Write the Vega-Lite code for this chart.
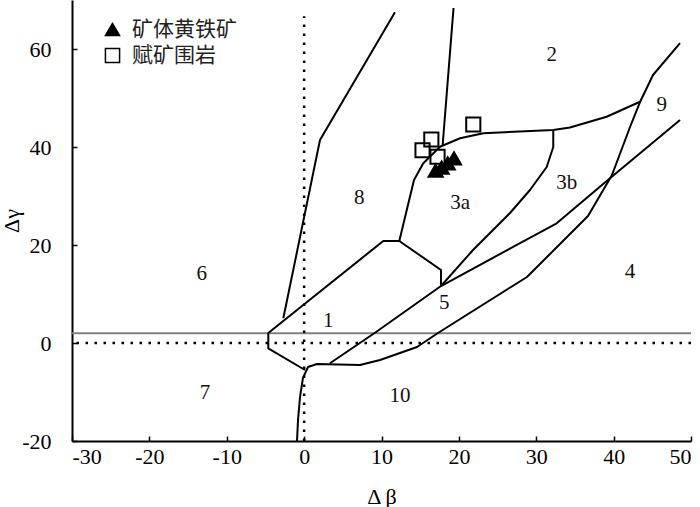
{
  "$schema": "https://vega.github.io/schema/vega-lite/v6.json",
  "width": 619,
  "height": 441,
  "autosize": "none",
  "padding": {"left": 72, "top": 0, "right": 9, "bottom": 66},
  "background": "white",
  "config": {
    "view": {"stroke": null},
    "axis": {
      "grid": false,
      "domainColor": "black",
      "domainWidth": 2,
      "tickColor": "black",
      "tickWidth": 1.5,
      "tickSize": -5,
      "labelFont": "Liberation Serif",
      "labelFontSize": 22,
      "labelColor": "black",
      "labelExpr": "'' + datum.value",
      "titleFont": "Liberation Serif",
      "titleFontSize": 22,
      "titleFontWeight": "normal",
      "titleColor": "black"
    },
    "legend": {
      "labelFont": "Noto Sans CJK SC",
      "labelFontSize": 21,
      "labelColor": "#222"
    }
  },
  "datasets": {
    "lines": [
      {"id": "A", "o": 1, "x": -2.69, "y": 5.04},
      {"id": "A", "o": 2, "x": 2.05, "y": 41.43},
      {"id": "A", "o": 3, "x": 11.74, "y": 67.5},
      {"id": "B", "o": 1, "x": 0.11, "y": -5.51},
      {"id": "B", "o": 2, "x": -4.63, "y": -1.08},
      {"id": "B", "o": 3, "x": -4.63, "y": 2.04},
      {"id": "B", "o": 4, "x": 10.23, "y": 20.82},
      {"id": "B", "o": 5, "x": 12.3, "y": 20.82},
      {"id": "B", "o": 6, "x": 17.69, "y": 14.9},
      {"id": "B", "o": 7, "x": 17.69, "y": 11.63},
      {"id": "C", "o": 1, "x": -0.92, "y": -20},
      {"id": "C", "o": 2, "x": -0.79, "y": -15.71},
      {"id": "C", "o": 3, "x": -0.53, "y": -11.02},
      {"id": "C", "o": 4, "x": -0.15, "y": -7.14},
      {"id": "C", "o": 5, "x": 0.5, "y": -4.9},
      {"id": "C", "o": 6, "x": 1.66, "y": -4.29},
      {"id": "C", "o": 7, "x": 7.22, "y": -4.49},
      {"id": "C", "o": 8, "x": 9.81, "y": -3.47},
      {"id": "C", "o": 9, "x": 14.59, "y": -0.82},
      {"id": "C", "o": 10, "x": 17.3, "y": 2.04},
      {"id": "C", "o": 11, "x": 28.8, "y": 13.47},
      {"id": "C", "o": 12, "x": 36.69, "y": 25.92},
      {"id": "C", "o": 13, "x": 39.79, "y": 34.29},
      {"id": "C", "o": 14, "x": 42.12, "y": 44.08},
      {"id": "C", "o": 15, "x": 43.41, "y": 49.18},
      {"id": "C", "o": 16, "x": 45.09, "y": 54.69},
      {"id": "C", "o": 17, "x": 48.58, "y": 61.22},
      {"id": "D", "o": 1, "x": 3.34, "y": -4.14},
      {"id": "D", "o": 2, "x": 9.16, "y": 2.1},
      {"id": "D", "o": 3, "x": 17.69, "y": 11.63},
      {"id": "D", "o": 4, "x": 32.64, "y": 24.43},
      {"id": "D", "o": 5, "x": 39.53, "y": 33.61},
      {"id": "D", "o": 6, "x": 48.58, "y": 45.51},
      {"id": "E", "o": 1, "x": 12.3, "y": 20.82},
      {"id": "E", "o": 2, "x": 14.2, "y": 33.27},
      {"id": "E", "o": 3, "x": 15.4, "y": 36.67},
      {"id": "E", "o": 4, "x": 17.56, "y": 40.06},
      {"id": "E", "o": 5, "x": 20.15, "y": 41.78},
      {"id": "E", "o": 6, "x": 23.16, "y": 42.8},
      {"id": "E", "o": 7, "x": 32.2, "y": 43.47},
      {"id": "E", "o": 8, "x": 34.36, "y": 43.98},
      {"id": "E", "o": 9, "x": 39.1, "y": 46.18},
      {"id": "E", "o": 10, "x": 43.41, "y": 49.24},
      {"id": "F", "o": 1, "x": 32.2, "y": 43.47},
      {"id": "F", "o": 2, "x": 32.2, "y": 40},
      {"id": "F", "o": 3, "x": 31.35, "y": 35.92},
      {"id": "F", "o": 4, "x": 29.19, "y": 31.22},
      {"id": "F", "o": 5, "x": 26.61, "y": 26.53},
      {"id": "F", "o": 6, "x": 21.83, "y": 18.98},
      {"id": "F", "o": 7, "x": 17.69, "y": 11.63},
      {"id": "G", "o": 1, "x": 19.31, "y": 68.37},
      {"id": "G", "o": 2, "x": 17.9, "y": 40.3}
    ],
    "pts": [
      {"type": "赋矿围岩", "x": 16.44, "y": 41.53},
      {"type": "赋矿围岩", "x": 15.3, "y": 39.33},
      {"type": "赋矿围岩", "x": 17.24, "y": 38.02},
      {"type": "赋矿围岩", "x": 21.86, "y": 44.59},
      {"type": "矿体黄铁矿", "x": 19.37, "y": 37.69},
      {"type": "矿体黄铁矿", "x": 18.56, "y": 36.67},
      {"type": "矿体黄铁矿", "x": 17.78, "y": 35.78},
      {"type": "矿体黄铁矿", "x": 17.0, "y": 35.16}
    ],
    "labels": [
      {"t": "1", "x": 3.13, "y": 4.56},
      {"t": "2", "x": 32.0, "y": 58.78},
      {"t": "3a", "x": 20.15, "y": 28.5},
      {"t": "3b", "x": 33.93, "y": 32.6},
      {"t": "4", "x": 42.12, "y": 14.56},
      {"t": "5", "x": 18.12, "y": 8.1},
      {"t": "6", "x": -13.24, "y": 14.08},
      {"t": "7", "x": -12.81, "y": -10.27},
      {"t": "8", "x": 7.13, "y": 29.53},
      {"t": "9", "x": 46.21, "y": 48.57},
      {"t": "10", "x": 12.39, "y": -10.75}
    ]
  },
  "layer": [
    {
      "data": {"values": [{"v": 2}]},
      "mark": {"type": "rule", "color": "#808080", "strokeWidth": 2},
      "encoding": {
        "y": {"field": "v", "type": "quantitative", "scale": {"domain": [-20, 70], "nice": false, "zero": false}}
      }
    },
    {
      "data": {"values": [{"v": 0}]},
      "mark": {"type": "rule", "color": "black", "strokeWidth": 2.5, "strokeDash": [2.5, 6.5]},
      "encoding": {
        "y": {"field": "v", "type": "quantitative"}
      }
    },
    {
      "data": {"values": [{"v": 0, "lo": -20, "hi": 66.7}]},
      "mark": {"type": "rule", "color": "black", "strokeWidth": 2.5, "strokeDash": [2.5, 6.5]},
      "encoding": {
        "x": {"field": "v", "type": "quantitative"},
        "y": {"field": "lo", "type": "quantitative"},
        "y2": {"field": "hi"}
      }
    },
    {
      "data": {"name": "lines"},
      "mark": {"type": "line", "color": "black", "strokeWidth": 2, "interpolate": "linear", "strokeJoin": "round"},
      "encoding": {
        "x": {"field": "x", "type": "quantitative"},
        "y": {"field": "y", "type": "quantitative"},
        "detail": {"field": "id"},
        "order": {"field": "o"}
      }
    },
    {
      "data": {"name": "labels"},
      "mark": {"type": "text", "font": "Liberation Serif", "fontSize": 21, "color": "#111", "align": "center", "baseline": "middle"},
      "encoding": {
        "x": {"field": "x", "type": "quantitative"},
        "y": {"field": "y", "type": "quantitative"},
        "text": {"field": "t"}
      }
    },
    {
      "data": {"name": "pts"},
      "mark": {"type": "point", "stroke": "black", "strokeWidth": 2, "opacity": 1},
      "encoding": {
        "x": {
          "field": "x", "type": "quantitative",
          "scale": {"domain": [-30, 50], "nice": false, "zero": false},
          "axis": {"values": [-30, -20, -10, 0, 10, 20, 30, 40, 50], "title": "Δ β", "labelPadding": 10, "titlePadding": 19}
        },
        "y": {
          "field": "y", "type": "quantitative",
          "scale": {"domain": [-20, 70], "nice": false, "zero": false},
          "axis": {"values": [-20, 0, 20, 40, 60], "title": "Δγ", "labelPadding": 26, "titlePadding": -2}
        },
        "shape": {
          "field": "type", "type": "nominal",
          "scale": {"domain": ["矿体黄铁矿", "赋矿围岩"], "range": ["triangle-up", "square"]},
          "legend": {
            "orient": "none", "legendX": 30, "legendY": 19, "title": null,
            "symbolSize": 200, "rowPadding": 4, "labelOffset": 9,
            "encode": {"symbols": {"update": {"stroke": {"value": "black"}, "strokeWidth": {"value": 2}}}}
          }
        },
        "fill": {
          "field": "type", "type": "nominal",
          "scale": {"domain": ["矿体黄铁矿", "赋矿围岩"], "range": ["black", "transparent"]},
          "legend": null
        },
        "size": {"value": 200}
      }
    }
  ]
}
